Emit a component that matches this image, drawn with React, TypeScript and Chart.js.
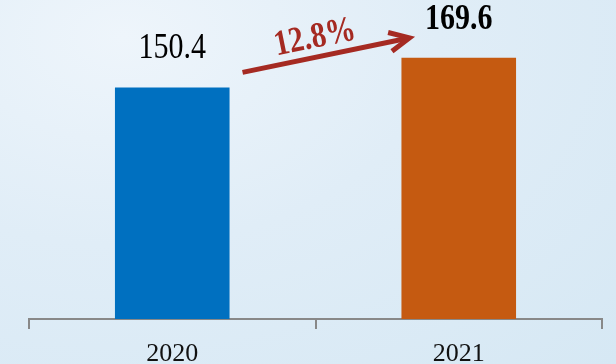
import React, { useEffect, useRef } from "react";
import { Chart, registerables } from "chart.js";

Chart.register(...registerables);

const categories = ["2020", "2021"];
const values = [150.4, 169.6];
const valueLabels = ["150.4", "169.6"];
const growthLabel = "12.8%";
const barColors = ["#0070C0", "#C55A11"];

function stretchedText(ctx: any, text: string, x: number, y: number, sy: number) {
  ctx.save();
  ctx.translate(x, y);
  ctx.scale(1, sy);
  ctx.fillText(text, 0, 0);
  ctx.restore();
}

const annotationPlugin = {
  id: "annot",
  afterDatasetsDraw(chart: any) {
    const ctx = chart.ctx;
    const meta = chart.getDatasetMeta(0);
    const b0 = meta.data[0];
    const b1 = meta.data[1];
    ctx.save();
    ctx.textAlign = "center";
    ctx.textBaseline = "middle";
    ctx.fillStyle = "#000";
    ctx.font = "30px 'Liberation Serif'";
    stretchedText(ctx, valueLabels[0], b0.x, b0.y - 39, 1.2);
    ctx.font = "bold 30px 'Liberation Serif'";
    stretchedText(ctx, valueLabels[1], b1.x, b1.y - 38, 1.2);

    // arrow
    const x1 = b0.x + b0.width / 2 + 13;
    const y1 = b0.y - 15;
    const x2 = b1.x - b1.width / 2 + 8;
    const y2 = b1.y - 20;
    const col = "#A52A22";
    ctx.strokeStyle = col;
    ctx.lineWidth = 5;
    ctx.lineCap = "butt";
    ctx.beginPath();
    ctx.moveTo(x1, y1);
    ctx.lineTo(x2 - 3, y2 + 0.6);
    ctx.stroke();
    const ang = Math.atan2(y2 - y1, x2 - x1);
    const hl = 22;
    const spread = 0.45;
    ctx.lineWidth = 5;
    ctx.lineJoin = "miter";
    ctx.beginPath();
    ctx.moveTo(x2 - hl * Math.cos(ang - spread), y2 - hl * Math.sin(ang - spread));
    ctx.lineTo(x2, y2);
    ctx.lineTo(x2 - hl * Math.cos(ang + spread), y2 - hl * Math.sin(ang + spread));
    ctx.stroke();

    // growth label
    ctx.translate((x1 + x2) / 2 - 11, (y1 + y2) / 2 - 17);
    ctx.rotate(-0.2);
    ctx.scale(1, 1.2);
    ctx.fillStyle = col;
    ctx.font = "bold 30px 'Liberation Serif'";
    ctx.fillText(growthLabel, 0, 0);
    ctx.restore();
  },
};

export default function App() {
  const ref = useRef<HTMLCanvasElement>(null);
  useEffect(() => {
    document.body.style.margin = "0";
    const chart = new Chart(ref.current!, {
      type: "bar",
      data: {
        labels: categories,
        datasets: [
          {
            data: values,
            backgroundColor: barColors,
            barPercentage: 0.4,
            categoryPercentage: 1,
          },
        ],
      },
      options: {
        responsive: false,
        animation: false,
        layout: { padding: { left: 29, right: 14, top: 0, bottom: -15 } },
        plugins: { legend: { display: false }, tooltip: { enabled: false } },
        scales: {
          y: { display: false, min: 0, max: 207.2 },
          x: {
            offset: true,
            grid: {
              offset: true,
              drawOnChartArea: false,
              drawTicks: true,
              tickLength: 10,
              color: "#888",
              lineWidth: 2,
            },
            border: { display: true, color: "#888", width: 2 },
            ticks: {
              color: "#111",
              padding: 14,
              font: { family: "'Liberation Serif'", size: 26, lineHeight: 0.85 },
            },
          },
        },
      },
      plugins: [annotationPlugin],
    });
    return () => chart.destroy();
  }, []);
  return (
    <div
      style={{
        position: "fixed",
        left: 0,
        top: 0,
        width: 616,
        height: 364,
        background:
          "radial-gradient(ellipse at 20% 10%, #eef5fb 0%, #e0edf7 45%, #d6e8f4 100%)",
      }}
    >
      <canvas ref={ref} width={616} height={364} />
    </div>
  );
}
